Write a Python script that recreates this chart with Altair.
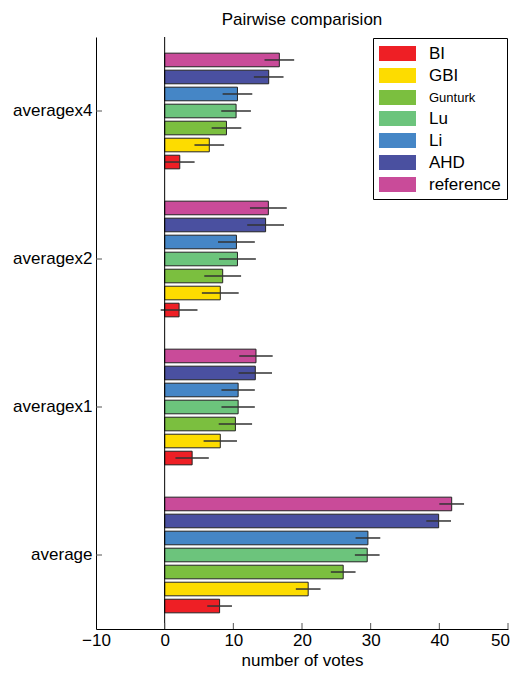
import altair as alt
import pandas as pd

categories = ["average", "averagex1", "averagex2", "averagex4"]
methods = ["BI", "GBI", "Gunturk", "Lu", "Li", "AHD", "reference"]
colors = ["#EE1F25", "#FDDC00", "#7BBF3F", "#6CC47C", "#4586C6", "#4A50A0", "#C94B99"]

BI = [8.0, 4.0, 2.1, 2.2]
GBI = [20.9, 8.1, 8.1, 6.5]
Gunturk = [26.0, 10.3, 8.45, 9.0]
Lu = [29.5, 10.7, 10.6, 10.4]
Li = [29.6, 10.7, 10.45, 10.6]
AHD = [39.9, 13.2, 14.7, 15.15]
reference = [41.8, 13.3, 15.1, 16.7]
errors = [1.8, 2.43, 2.68, 2.16]

x_ticks = [-10, 0, 10, 20, 30, 40, 50]

series = {"BI": BI, "GBI": GBI, "Gunturk": Gunturk, "Lu": Lu, "Li": Li,
          "AHD": AHD, "reference": reference}
rows = []
for m in methods:
    for i, c in enumerate(categories):
        v = series[m][i]
        rows.append({"category": c, "method": m, "value": v,
                     "lo": v - errors[i], "hi": v + errors[i]})
df = pd.DataFrame(rows)

FONT = "Liberation Sans"
PLOT_H = 592
y_order = ["averagex4", "averagex2", "averagex1", "average"]
off_order = list(reversed(methods))

y_enc = alt.Y("category:N", sort=y_order,
              scale=alt.Scale(paddingInner=0, paddingOuter=0),
              axis=alt.Axis(title=None, ticks=False, labelFontSize=17, labelPadding=4,
                            labelFont=FONT, labelColor="black", domainColor="black",
                            domainWidth=1))
yoff = alt.YOffset("method:N", sort=off_order,
                   scale=alt.Scale(paddingInner=0.2, paddingOuter=0.95))
x_scale = alt.Scale(domain=[-10, 50], nice=False)

base = alt.Chart(df)

bars = base.mark_bar(stroke="#222222", strokeWidth=1).encode(
    x=alt.X("value:Q", scale=x_scale,
            axis=alt.Axis(values=x_ticks, ticks=False, grid=False, labelFontSize=17,
                          labelFont=FONT, labelColor="black", labelPadding=3,
                          labelFlush=False,
                          labelOffset={"expr": "datum.value === 50 ? -8 : 0"},
                          domainColor="black", domainWidth=1,
                          title="number of votes", titleFontSize=17, titleFont=FONT,
                          titleFontWeight="normal", titleColor="black",
                          titleBaseline="alphabetic", titleY=36)),
    y=y_enc,
    yOffset=yoff,
    color=alt.Color("method:N", sort=methods,
                    scale=alt.Scale(domain=methods, range=colors),
                    legend=alt.Legend(title=None, orient="none", legendX=277, legendY=1,
                                      symbolType="M-2,-0.8H2V0.8H-2Z",
                                      symbolSize=342, symbolStrokeWidth=0,
                                      symbolOpacity=1, symbolOffset=9,
                                      labelFont=FONT,
                                      labelFontSize={"expr": "datum.value === 'Gunturk' ? 13 : 17"},
                                      labelColor="black", labelOffset=22,
                                      rowPadding=4, padding=6,
                                      strokeColor="black", fillColor="white")),
)

err = base.mark_rule(color="#333333", strokeWidth=1.5).encode(
    x="lo:Q", x2="hi:Q", y=alt.Y("category:N", sort=y_order), yOffset=yoff,
)

baseline = alt.Chart(pd.DataFrame({"v": [0]})).mark_rule(color="black", strokeWidth=1).encode(
    x=alt.X("v:Q", scale=x_scale)
)

xt = alt.Chart(pd.DataFrame({"t": x_ticks[1:]})).mark_rule(color="#555555", strokeWidth=1).encode(
    x=alt.X("t:Q", scale=x_scale), y=alt.value(PLOT_H), y2=alt.value(PLOT_H - 6)
)

yt = alt.Chart(pd.DataFrame({"category": categories})).mark_rule(color="#555555", strokeWidth=1).encode(
    y=alt.Y("category:N", sort=y_order), x=alt.value(0), x2=alt.value(6)
)

chart = alt.layer(bars, err, baseline, xt, yt).properties(
    width=412, height=PLOT_H,
    title=alt.TitleParams("Pairwise comparision", fontSize=17, font=FONT,
                          fontWeight="normal", color="black", offset=8),
    autosize=alt.AutoSizeParams(type="none"),
    padding={"left": 88, "top": 29, "right": 2, "bottom": 661 - 29 - PLOT_H},
).configure_view(stroke=None)

chart.save("out.html", embed_options={"renderer": "svg", "actions": False})
